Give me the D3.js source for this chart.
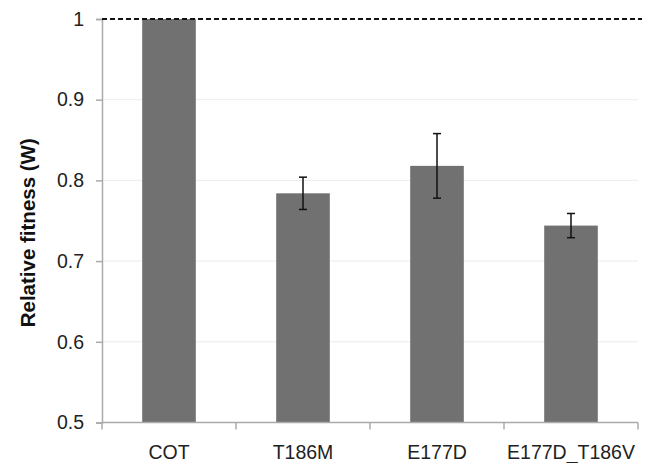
<!DOCTYPE html>
<html>
<head>
<meta charset="utf-8">
<script src="https://cdn.jsdelivr.net/npm/d3@7"></script>
<style>
  html, body { margin: 0; padding: 0; background: #fff; }
  #chart { width: 646px; height: 463px; }
  text { font-family: "Liberation Sans", Arial, sans-serif; }
</style>
</head>
<body>
<div id="chart"></div>
<script>
// values
const strains = ["COT", "T186M", "E177D", "E177D_T186V"];
const fitness = [1.0, 0.784, 0.818, 0.744];
const errors = [0, 0.02, 0.04, 0.015];
const yTicks = [0.5, 0.6, 0.7, 0.8, 0.9, 1];

function renderFitness(containerSelector) {
    const container = d3.select(containerSelector);
    const width = 646, height = 463;
    const margin = { top: 19, right: 8, bottom: 40, left: 102 };

    const svg = container.append("svg")
        .attr("width", width)
        .attr("height", height);

    const x = d3.scaleBand()
        .domain(strains)
        .range([margin.left, width - margin.right]);

    const y = d3.scaleLinear()
        .domain([0.5, 1])
        .range([height - margin.bottom - 0.5, margin.top]);

    // light gridlines
    svg.append("g")
        .selectAll("line")
        .data(yTicks.filter(d => d > 0.5 && d < 1))
        .join("line")
        .attr("x1", margin.left)
        .attr("x2", width - margin.right)
        .attr("y1", d => y(d))
        .attr("y2", d => y(d))
        .attr("stroke", "#ececec")
        .attr("stroke-width", 1);

    const bw = x.bandwidth() * 0.4;
    const data = strains.map((s, i) => ({ s, v: fitness[i], e: errors[i] }));

    svg.append("g")
        .selectAll("rect")
        .data(data)
        .join("rect")
        .attr("x", d => x(d.s) + (x.bandwidth() - bw) / 2)
        .attr("width", bw)
        .attr("y", d => y(d.v))
        .attr("height", d => y(0.5) - y(d.v))
        .attr("fill", "#717171");

    // error bars
    const eb = svg.append("g")
        .attr("stroke", "#111")
        .attr("stroke-width", 1.5);
    data.filter(d => d.e > 0).forEach(d => {
        const cx = x(d.s) + x.bandwidth() / 2;
        eb.append("line").attr("x1", cx).attr("x2", cx)
            .attr("y1", y(d.v + d.e)).attr("y2", y(d.v - d.e));
        eb.append("line").attr("x1", cx - 4).attr("x2", cx + 4)
            .attr("y1", y(d.v + d.e)).attr("y2", y(d.v + d.e));
        eb.append("line").attr("x1", cx - 4).attr("x2", cx + 4)
            .attr("y1", y(d.v - d.e)).attr("y2", y(d.v - d.e));
    });

    // y axis
    const yAxis = svg.append("g")
        .attr("transform", `translate(${margin.left},0)`)
        .call(d3.axisLeft(y).tickValues(yTicks).tickSize(6).tickPadding(12)
            .tickFormat(d => d === 1 ? "1" : d3.format(".1f")(d)));
    yAxis.select(".domain").attr("stroke", "#aaa").attr("stroke-width", 1.5);
    yAxis.selectAll(".tick line").attr("stroke", "#aaa").attr("stroke-width", 1.5);
    yAxis.selectAll(".tick text").attr("fill", "#222").style("font-size", "19.5px");

    // x axis with ticks between categories
    const xAxisG = svg.append("g")
        .attr("transform", `translate(0,${y(0.5)})`);
    xAxisG.append("line")
        .attr("x1", margin.left).attr("x2", width - margin.right)
        .attr("stroke", "#aaa").attr("stroke-width", 1.5);
    xAxisG.selectAll("line.tk")
        .data(strains.map(s => x(s)).concat([x(strains[strains.length - 1]) + x.bandwidth()]))
        .join("line")
        .attr("class", "tk")
        .attr("x1", d => d).attr("x2", d => d)
        .attr("y1", 0).attr("y2", 7)
        .attr("stroke", "#aaa").attr("stroke-width", 1.5);
    xAxisG.selectAll("text")
        .data(strains)
        .join("text")
        .attr("x", d => x(d) + x.bandwidth() / 2)
        .attr("y", 36.5)
        .attr("text-anchor", "middle")
        .attr("fill", "#222")
        .style("font-size", "19.5px")
        .text(d => d);

    // reference line at W = 1
    svg.append("line")
        .attr("x1", margin.left).attr("x2", width - 4)
        .attr("y1", y(1)).attr("y2", y(1))
        .attr("stroke", "#111")
        .attr("stroke-width", 2)
        .attr("stroke-dasharray", "5,3");

    // y title
    svg.append("text")
        .attr("transform", `translate(35,${(y(0.5) + y(1)) / 2 + 12}) rotate(-90)`)
        .attr("text-anchor", "middle")
        .attr("fill", "#111")
        .style("font-size", "20.5px")
        .style("font-weight", "bold")
        .text("Relative fitness (W)");
}

renderFitness("#chart");
</script>
</body>
</html>
